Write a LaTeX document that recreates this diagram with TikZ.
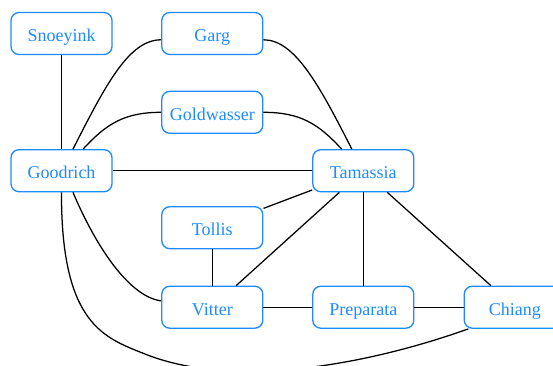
\documentclass[tikz,border=0pt]{standalone}
\usepackage{fontspec}
\setmainfont{Liberation Serif}
\definecolor{nodeblue}{RGB}{30,140,255}
\begin{document}
\begin{tikzpicture}[x=0.75pt,y=-0.75pt,
  person/.style={draw=nodeblue,line width=1pt,rounded corners=6pt,
    minimum width=75.75pt,minimum height=31.5pt,inner sep=0pt,
    text height=12pt,text depth=0pt,
    text=nodeblue,font=\fontsize{13.5}{16}\selectfont,fill=white},
  link/.style={draw=black,line width=0.95pt}]
\useasboundingbox (0,0) rectangle (553,365);
\clip (0,0) rectangle (553,365);
\node[person] (Snoeyink) at (61.5,33.5) {Snoeyink};
\node[person] (Garg) at (212.3,33.5) {Garg};
\node[person] (Goldwasser) at (212.3,112.3) {Goldwasser};
\node[person] (Goodrich) at (61.5,170.7) {Goodrich};
\node[person] (Tamassia) at (363.3,170.7) {Tamassia};
\node[person] (Tollis) at (212.3,227.7) {Tollis};
\node[person] (Vitter) at (212.3,307.2) {Vitter};
\node[person] (Preparata) at (363.3,307.2) {Preparata};
\node[person] (Chiang) at (514.8,307.2) {Chiang};
\coordinate (lowbend) at (145,354);
\coordinate (cA) at (61,325);
\coordinate (cB) at (105,338);
\coordinate (cC) at (235,390);
\coordinate (cD) at (370,364);
\path[link] (Snoeyink) -- (Goodrich);
\path[link] (Goodrich) -- (Tamassia);
\path[link] (Tollis) -- (Tamassia);
\path[link] (Vitter) -- (Tamassia);
\path[link] (Tamassia) -- (Preparata);
\path[link] (Tamassia) -- (Chiang);
\path[link] (Tollis) -- (Vitter);
\path[link] (Vitter) -- (Preparata);
\path[link] (Preparata) -- (Chiang);
\path[link] (Goodrich.62) .. controls +(33,-65) and +(-32,0) .. (Garg.187);
\path[link] (Garg.-7) .. controls +(31,0) and +(-33,-65) .. (Tamassia.118);
\path[link] (Goodrich.45) .. controls +(23,-25) and +(-37,0) .. (Goldwasser.west);
\path[link] (Goldwasser.east) .. controls +(37,0) and +(-23,-25) .. (Tamassia.135);
\path[link] (Goodrich.-62) .. controls +(18,43) and +(-36,-5) .. (Vitter.173);
\path[link] (Goodrich.south) .. controls (cA) and (cB) .. (lowbend)
  .. controls (cC) and (cD) .. (Chiang.205);
\end{tikzpicture}
\end{document}
